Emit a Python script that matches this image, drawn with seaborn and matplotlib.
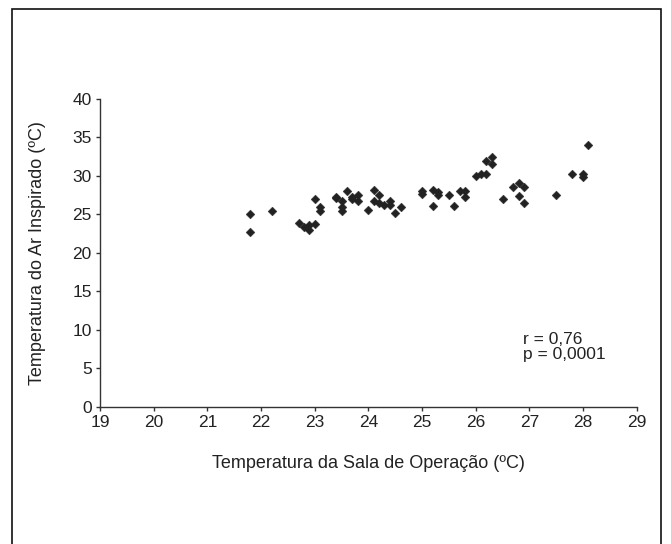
import matplotlib
matplotlib.use("Agg")
import matplotlib.pyplot as plt
import seaborn as sns
import pandas as pd
from matplotlib.patches import Rectangle

# sala de operação (ºC) vs ar inspirado (ºC)
sala = [21.8, 21.8, 22.2, 22.7, 22.8, 22.9, 22.9, 23.0, 23.0, 23.1, 23.1,
        23.4, 23.4, 23.5, 23.5, 23.5, 23.6, 23.7, 23.7, 23.8, 23.8,
        24.0, 24.1, 24.1, 24.2, 24.2, 24.3, 24.4, 24.4, 24.5, 24.6,
        25.0, 25.0, 25.2, 25.2, 25.3, 25.3, 25.5, 25.6, 25.7, 25.8, 25.8,
        26.0, 26.1, 26.2, 26.2, 26.3, 26.3, 26.5, 26.7, 26.8, 26.8,
        26.9, 26.9, 27.5, 27.8, 28.0, 28.0, 28.1]
ar = [25.0, 22.7, 25.4, 23.85, 23.3, 23.6, 23.0, 23.7, 27.0, 25.9, 25.4,
      27.3, 27.1, 26.7, 26.0, 25.4, 28.0, 27.3, 27.0, 27.5, 26.8,
      25.6, 28.2, 26.8, 27.5, 26.5, 26.2, 26.8, 26.2, 25.2, 25.9,
      28.1, 27.7, 28.2, 26.1, 27.9, 27.5, 27.5, 26.1, 28.0, 28.0, 27.2,
      30.0, 30.2, 30.2, 32.0, 32.4, 31.6, 27.0, 28.6, 29.1, 27.4,
      28.5, 26.5, 27.5, 30.3, 30.2, 29.8, 34.0]
stats_text = ["r = 0,76", "p = 0,0001"]

df = pd.DataFrame({"sala": sala, "ar": ar})

sns.set_theme(style="white")
plt.rcParams["font.family"] = ["Liberation Sans", "DejaVu Sans"]

fig = plt.figure(figsize=(6.71, 5.44), dpi=100)
ax = fig.add_axes([0.149, 0.2526, 0.800, 0.5654])

sns.scatterplot(data=df, x="sala", y="ar", marker="D", s=20,
                color="#222222", edgecolor="#222222", linewidth=0.3, ax=ax)

ax.set_xlim(19, 29)
ax.set_ylim(0, 40)
ax.set_xticks(range(19, 30))
ax.set_yticks(range(0, 41, 5))
for side in ["top", "right"]:
    ax.spines[side].set_visible(False)
for side in ["left", "bottom"]:
    ax.spines[side].set_color("#333333")
    ax.spines[side].set_linewidth(1.0)
ax.tick_params(axis="both", direction="out", length=3, width=1.0,
               color="#333333", labelsize=12.5, labelcolor="#222222", pad=3)
ax.tick_params(axis="x", bottom=True)
ax.tick_params(axis="y", left=True)

ax.set_xlabel("Temperatura da Sala de Operação (ºC)", fontsize=13,
              color="#222222", labelpad=18)
ax.set_ylabel("Temperatura do Ar Inspirado (ºC)", fontsize=13,
              color="#222222", labelpad=19)

ax.text(26.88, 8.7, stats_text[0], fontsize=12.5, color="#222222", va="center")
ax.text(26.88, 6.8, stats_text[1], fontsize=12.5, color="#222222", va="center")

# outer frame
fig.patches.append(Rectangle((11.5 / 671, -0.01), (661 - 11.5) / 671,
                             1 - 9.4 / 544 + 0.01, transform=fig.transFigure,
                             fill=False, edgecolor="#111111", linewidth=1.2))

fig.savefig("out.png", dpi=100, facecolor="white")
